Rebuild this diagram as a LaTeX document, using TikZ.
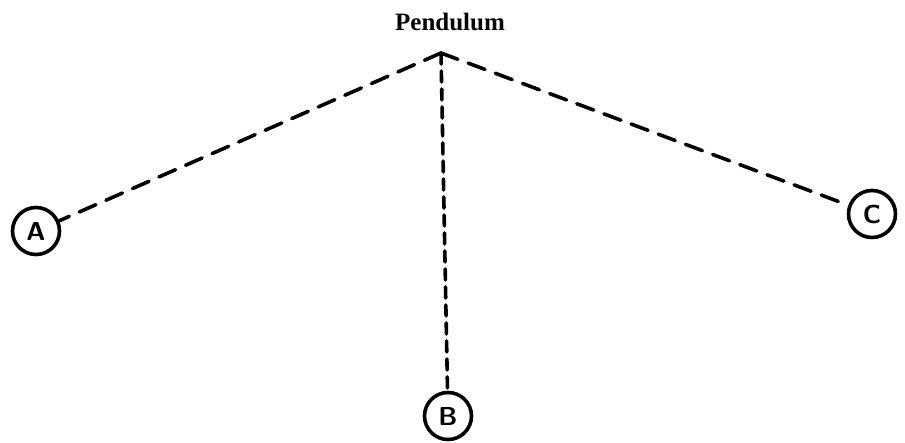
\documentclass[tikz,border=0pt]{standalone}
\usepackage{fontspec}
\newfontfamily\labfont{Liberation Serif}
\usepackage{tikz}
\begin{document}
\begin{tikzpicture}[x=1pt,y=-1pt,line cap=round,line join=round,
                    every node/.style={font=\labfont\fontsize{25pt}{30pt}\selectfont\bfseries},
                    bob/.style={circle,draw,line width=3.6pt,minimum size=47pt,inner sep=0pt,
                                font=\fontsize{26pt}{30pt}\selectfont\sffamily\bfseries},
                    swing/.style={line width=3.6pt,dash pattern=on 18pt off 11pt}]
% ---- canvas (px, origin = top left, y downwards) ----
\path[use as bounding box] (0,0) rectangle (905,442);
% ---- pivot and label ----
\coordinate (P) at (441,53);
\node[anchor=base] (lab) at (450,30) {Pendulum};
% ---- bob positions ----
\node[bob] (A) at (36,231) {A};
\node[bob] (B) at (448,416) {B};
\node[bob] (C) at (872,214) {C};
% ---- strings ----
\draw[swing] (P) -- (A);
\draw[swing] (P) -- (C);
\draw[swing,dash pattern=on 11pt off 7pt] (P) -- (B);
\end{tikzpicture}
\end{document}
